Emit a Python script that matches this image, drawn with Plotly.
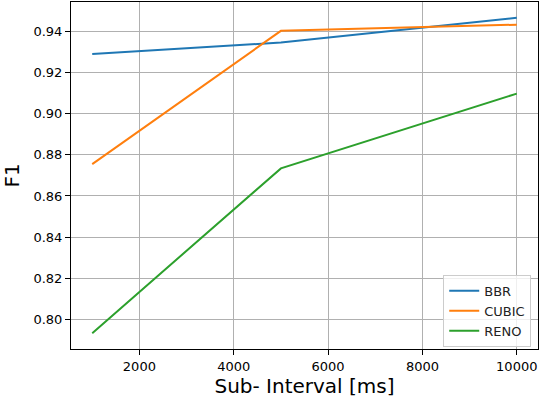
import plotly.graph_objects as go

sub_interval = [1000, 5000, 10000]
bbr = [0.9289, 0.9345, 0.9465]
cubic = [0.8755, 0.9402, 0.9432]
reno = [0.7934, 0.8734, 0.9097]
x_ticks = [2000, 4000, 6000, 8000, 10000]
y_ticks = [0.80, 0.82, 0.84, 0.86, 0.88, 0.90, 0.92, 0.94]

series = [("BBR", bbr, "#1f77b4"), ("CUBIC", cubic, "#ff7f0e"), ("RENO", reno, "#2ca02c")]

fig = go.Figure()
for name, vals, color in series:
    fig.add_trace(go.Scatter(x=sub_interval, y=vals, mode="lines", name=name,
                             line=dict(color=color, width=2)))

font = "DejaVu Sans, sans-serif"
fig.update_layout(
    width=539, height=400,
    margin=dict(l=71, r=1, t=2, b=51),
    paper_bgcolor="white", plot_bgcolor="white",
    font=dict(family=font, size=13, color="black"),
    showlegend=True,
    legend=dict(x=0.9855, y=0.006, xanchor="right", yanchor="bottom",
                bgcolor="rgba(255,255,255,0.8)", bordercolor="#cccccc", borderwidth=1,
                font=dict(family=font, size=13, color="#222222"),
                tracegroupgap=0, itemwidth=30),
)
fig.update_xaxes(
    range=[550, 10450], tickvals=x_ticks, ticktext=[str(v) for v in x_ticks],
    showgrid=True, gridcolor="#b0b0b0", gridwidth=1,
    showline=True, linecolor="black", linewidth=1, mirror=True,
    ticks="outside", ticklen=5, tickcolor="black", zeroline=False,
    title=dict(text="Sub- Interval [ms]", font=dict(family=font, size=20), standoff=4),
)
fig.update_yaxes(
    range=[0.7857, 0.9542], tickvals=y_ticks, ticktext=[f"{v:.2f}" for v in y_ticks],
    showgrid=True, gridcolor="#b0b0b0", gridwidth=1,
    showline=True, linecolor="black", linewidth=1, mirror=True,
    ticks="outside", ticklen=5, tickcolor="black", zeroline=False,
    title=dict(text="F1", font=dict(family=font, size=20), standoff=8),
)
fig.write_html("out.html", config={"displayModeBar": False},
               post_script="document.body.style.margin='0';document.body.style.padding='0';")
